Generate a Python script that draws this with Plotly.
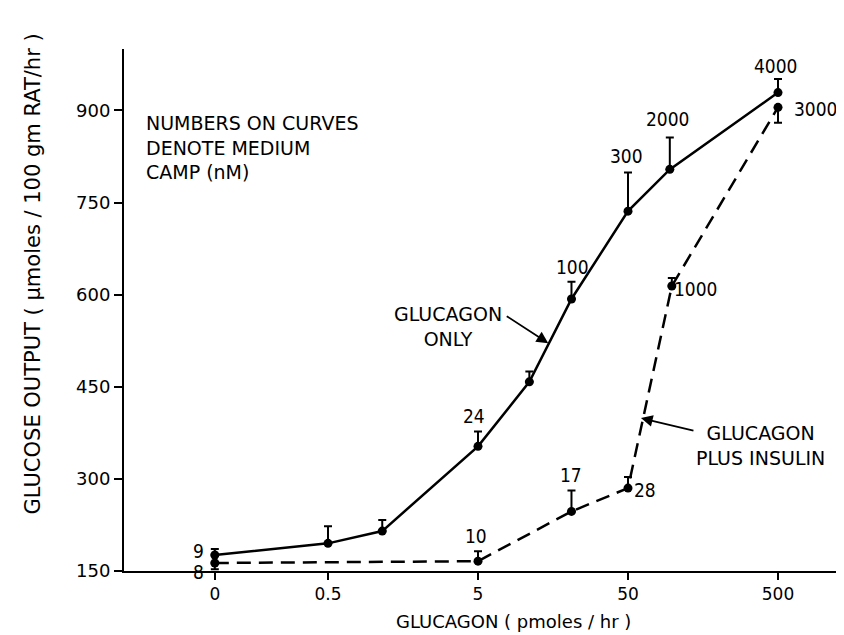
import numpy as np
import plotly.graph_objects as go

# ---------------- data ----------------
ZERO_STANDIN = 0.088  # where dose "0" is drawn on the log axis

only_dose = [0, 0.5, 1.15, 5, 11, 21, 50, 95, 500]
only_output = [176, 195, 215, 353, 458, 593, 736, 804, 929]
only_err = [10, 28, 18, 24, 17, 28, 63, 52, 22]
only_camp = ["9", "", "", "24", "", "100", "300", "2000", "4000"]

ins_dose = [0, 5, 21, 50, 98, 500]
ins_output = [163, 166, 247, 285, 614, 905]
ins_err_up = [0, 16, 34, 18, 13, 0]
ins_err_down = [10, 0, 0, 0, 0, 25]
ins_camp = ["8", "10", "17", "28", "1000", "3000"]

x_tick_dose = [0, 0.5, 5, 50, 500]
x_tick_text = ["0", "0.5", "5", "50", "500"]
y_tick_vals = [150, 300, 450, 600, 750, 900]

# label offsets (pixels) for the cAMP numbers
only_shift = [(-16, 4), None, None, (-4, 30), None, (1, 32), (-2, 55), (-2, 50), (-2, 27)]
ins_shift = [(-16, -9), (-2, 25), (0, 36), (17, -2), (24, -3), (38, -2)]


def px(d):
    return [ZERO_STANDIN if v == 0 else v for v in d]


TXT = "DejaVu Sans, Verdana, sans-serif"
NUM = "Liberation Sans Narrow, DejaVu Sans Condensed, Arial Narrow, sans-serif"

fig = go.Figure()
fig.add_trace(go.Scatter(
    x=px(only_dose), y=only_output, mode="lines+markers",
    line=dict(color="black", width=2.5),
    marker=dict(color="black", size=9),
    error_y=dict(type="data", symmetric=False, array=only_err,
                 arrayminus=[0] * len(only_err), thickness=2, width=4, color="black"),
    showlegend=False))
fig.add_trace(go.Scatter(
    x=px(ins_dose), y=ins_output, mode="lines+markers",
    line=dict(color="black", width=2.5, dash="14px,8px"),
    marker=dict(color="black", size=9),
    error_y=dict(type="data", symmetric=False, array=ins_err_up,
                 arrayminus=ins_err_down, thickness=2, width=4, color="black"),
    showlegend=False))

ann = []
for d, v, lab, sh in zip(px(only_dose), only_output, only_camp, only_shift):
    if lab:
        ann.append(dict(x=np.log10(d), y=v, xref="x", yref="y", text=lab, showarrow=False,
                        xanchor="center", yanchor="middle",
                        xshift=sh[0], yshift=sh[1], font=dict(family=NUM, size=19, color="black")))
for d, v, lab, sh in zip(px(ins_dose), ins_output, ins_camp, ins_shift):
    if lab:
        ann.append(dict(x=np.log10(d), y=v, xref="x", yref="y", text=lab, showarrow=False,
                        xanchor="center", yanchor="middle",
                        xshift=sh[0], yshift=sh[1], font=dict(family=NUM, size=19, color="black")))

# explanatory text
ann.append(dict(x=0.028, y=0.883, xref="paper", yref="paper", xanchor="left", yanchor="top",
                align="left", showarrow=False,
                text="NUMBERS ON CURVES<br>DENOTE MEDIUM<br>CAMP (nM)",
                font=dict(family=TXT, size=19, color="black")))
# curve labels
ann.append(dict(x=0.454, y=0.468, xref="paper", yref="paper", xanchor="center", yanchor="middle",
                showarrow=False, text="GLUCAGON<br>ONLY",
                font=dict(family=TXT, size=19, color="black")))
ann.append(dict(x=0.891, y=0.241, xref="paper", yref="paper", xanchor="center", yanchor="middle",
                showarrow=False, text="GLUCAGON<br>PLUS INSULIN",
                font=dict(family=TXT, size=19, color="black")))
# arrows
ann.append(dict(x=np.log10(14.7), y=521, xref="x", yref="y", text="", showarrow=True,
                ax=-43, ay=-28, arrowhead=2, arrowsize=1.3, arrowwidth=1.8, arrowcolor="black"))
ann.append(dict(x=np.log10(61), y=399, xref="x", yref="y", text="", showarrow=True,
                ax=54, ay=13, arrowhead=2, arrowsize=1.3, arrowwidth=1.8, arrowcolor="black"))
# axis titles
ann.append(dict(x=0.545, y=-0.0977, xref="paper", yref="paper", xanchor="center", yanchor="middle",
                showarrow=False, text="GLUCAGON ( pmoles / hr )",
                font=dict(family=TXT, size=18, color="black")))
ann.append(dict(x=-0.1275, y=0.57, xref="paper", yref="paper", xanchor="center", yanchor="middle",
                showarrow=False, textangle=-90,
                text="GLUCOSE OUTPUT ( μmoles / 100 gm RAT/hr )",
                font=dict(family=TXT, size=21, color="black")))

fig.update_layout(
    width=844, height=635,
    margin=dict(l=116, r=14, t=41, b=72),
    paper_bgcolor="white", plot_bgcolor="white",
    annotations=ann,
    xaxis=dict(type="log", range=[-1.661, 3.099], showgrid=False, zeroline=False,
               showline=True, linecolor="black", linewidth=2,
               ticks="outside", ticklen=7, tickwidth=2, tickcolor="black",
               tickvals=px(x_tick_dose), ticktext=x_tick_text,
               tickfont=dict(family=TXT, size=17, color="black")),
    yaxis=dict(range=[150, 1000], showgrid=False, zeroline=False,
               showline=True, linecolor="black", linewidth=2,
               ticks="outside", ticklen=8, tickwidth=2, tickcolor="black",
               tickvals=y_tick_vals,
               tickfont=dict(family=TXT, size=18, color="black")),
)

fig.write_html("out.html")
